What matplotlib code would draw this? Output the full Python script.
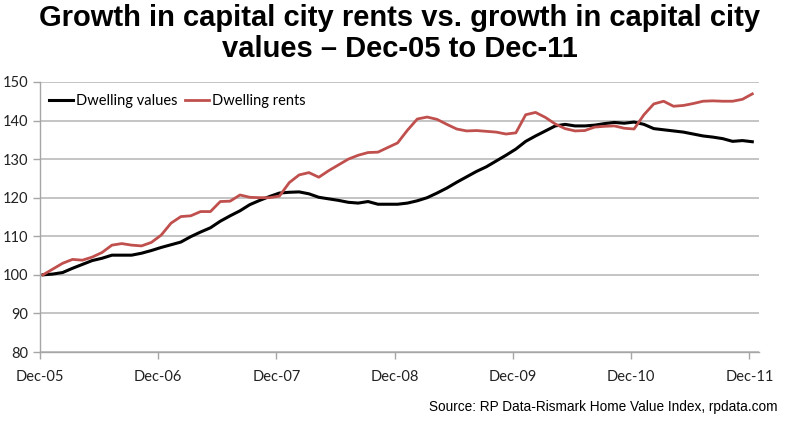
import matplotlib
matplotlib.use("Agg")
import matplotlib.pyplot as plt
from matplotlib import font_manager as fm
import numpy as np

dates = ["Dec-05", "Dec-06", "Dec-07", "Dec-08", "Dec-09", "Dec-10", "Dec-11"]

dwelling_values = [
    100.0, 100.2, 100.6, 101.7, 102.7, 103.7, 104.3, 105.1, 105.1, 105.1, 105.6, 106.3,
    107.1, 107.8, 108.5, 109.9, 111.1, 112.2, 113.9, 115.3, 116.6, 118.2, 119.3, 120.3,
    121.2, 121.4, 121.5, 121.0, 120.1, 119.7, 119.3, 118.8, 118.6, 119.0, 118.3, 118.3,
    118.3, 118.6, 119.2, 120.0, 121.2, 122.5, 124.0, 125.4, 126.8, 128.0, 129.5, 131.0,
    132.6, 134.6, 136.0, 137.3, 138.6, 139.0, 138.6, 138.6, 138.8, 139.2, 139.5, 139.3,
    139.6, 139.0, 137.9, 137.6, 137.3, 137.0, 136.5, 136.0, 135.7, 135.3, 134.6, 134.8,
    134.5,
]

dwelling_rents = [
    100.0, 101.5, 103.0, 104.0, 103.8, 104.6, 105.8, 107.7, 108.1, 107.7, 107.5, 108.4,
    110.3, 113.4, 115.1, 115.3, 116.4, 116.4, 119.0, 119.1, 120.7, 120.1, 120.0, 120.0,
    120.4, 123.9, 125.9, 126.5, 125.3, 127.0, 128.5, 130.0, 131.0, 131.7, 131.8, 133.0,
    134.2, 137.5, 140.4, 140.9, 140.3, 139.0, 137.8, 137.3, 137.4, 137.2, 137.0, 136.5,
    136.8, 141.5, 142.1, 140.8, 139.1, 137.9, 137.3, 137.4, 138.3, 138.5, 138.6, 138.0,
    137.8, 141.5, 144.3, 145.0, 143.7, 143.9, 144.4, 145.0, 145.1, 145.0, 145.0, 145.5,
    146.9,
]

y_ticks = [80, 90, 100, 110, 120, 130, 140, 150]

names = {f.name for f in fm.fontManager.ttflist}
title_font = "Liberation Sans Narrow" if "Liberation Sans Narrow" in names else "Liberation Sans"
tick_font = "Lato"

months = np.arange(len(dwelling_values)) + 0.3

fig = plt.figure(figsize=(8.0, 4.37), dpi=100)
ax = fig.add_axes([0.05, 0.1945, 0.899, 0.618])

ax.plot(months, dwelling_values, color="black", lw=2.2, label="Dwelling values",
        solid_joinstyle="round")
ax.plot(months, dwelling_rents, color="#c0504d", lw=2.0, label="Dwelling rents",
        solid_joinstyle="round")

ax.set_ylim(80, 150)
ax.set_xlim(0, 73)
ax.set_yticks(y_ticks)
ax.set_xticks(np.arange(len(dates)) * 12)
ax.set_xticklabels(dates)
ax.yaxis.grid(True, color="#bfbfbf", lw=1.3)
ax.set_axisbelow(True)
for s in ["top", "right"]:
    ax.spines[s].set_visible(False)
for s in ["left", "bottom"]:
    ax.spines[s].set_color("#a6a6a6")
    ax.spines[s].set_linewidth(1.0)
ax.tick_params(axis="both", colors="#a6a6a6", length=5, width=1.0,
               labelcolor="#222222", labelsize=10.5)
for lab in ax.get_xticklabels() + ax.get_yticklabels():
    lab.set_fontfamily(tick_font)
ax.tick_params(axis="x", pad=8)

leg = ax.legend(loc="upper left", ncol=2, frameon=False, bbox_to_anchor=(-0.006, 1.005),
                handlelength=1.65, handletextpad=0.2, columnspacing=0.5,
                prop={"family": tick_font, "size": 10.5})

fig.text(0.5, 0.958, "Growth in capital city rents vs. growth in capital city",
         ha="center", va="center", fontsize=21, fontweight="bold", family=title_font)
fig.text(0.5, 0.888, "values \u2013 Dec-05 to Dec-11",
         ha="center", va="center", fontsize=21, fontweight="bold", family=title_font)
fig.text(0.972, 0.068, "Source: RP Data-Rismark Home Value Index, rpdata.com",
         ha="right", va="center", fontsize=9.8, family="Liberation Sans")

fig.savefig("out.png", dpi=100)
